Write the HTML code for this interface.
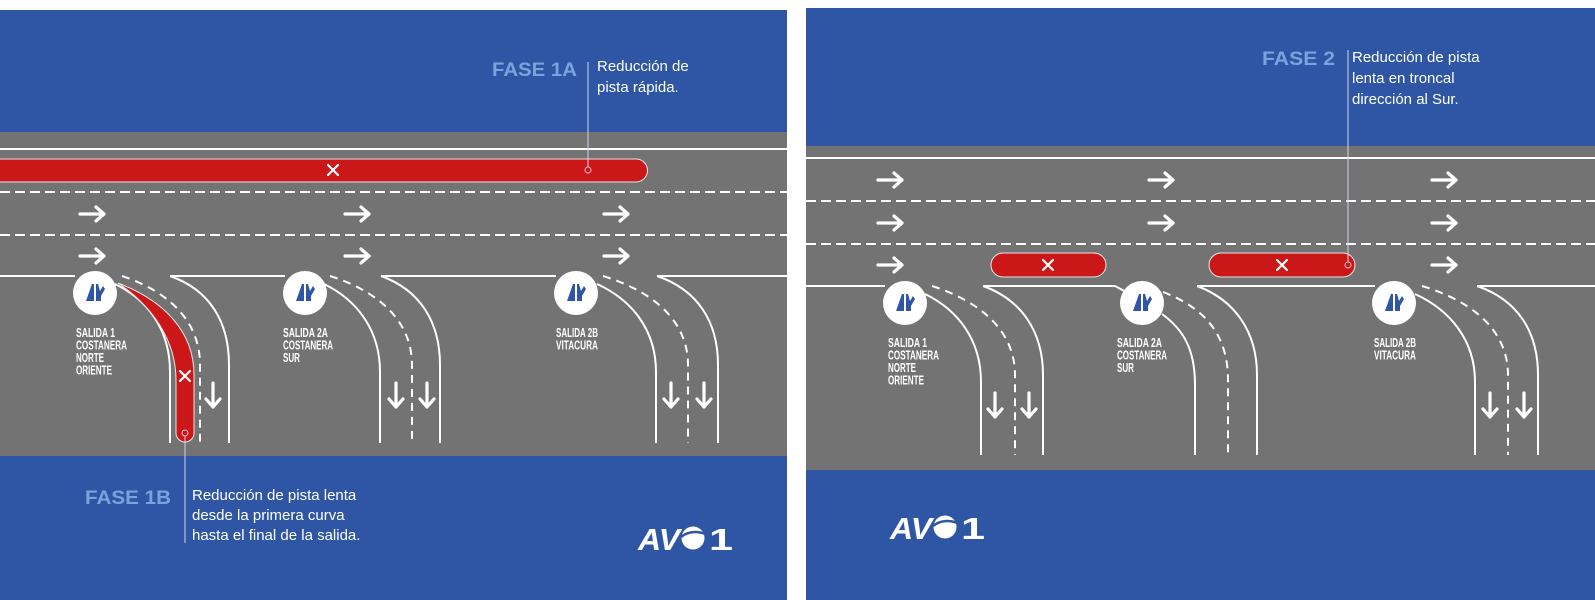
<!DOCTYPE html>
<html><head><meta charset="utf-8"><style>
html,body{margin:0;padding:0;background:#fff;}
svg{display:block;}
</style></head><body>
<svg width="1595" height="600" viewBox="0 0 1595 600" xmlns="http://www.w3.org/2000/svg" font-family="'Liberation Sans', sans-serif">
<defs>
  <g id="icon">
    <circle r="22" fill="#fff"/>
    <polygon points="-9,8 -3,-9 -1,-9 -1,8" fill="#2f56a6"/>
    <polygon points="1,8 1,-9 3,-9 5,-2 8,-7 10,-4 6,3 6,8" fill="#2f56a6"/>
  </g>
  <g id="ra" fill="none" stroke="#fff" stroke-width="3.2" stroke-linecap="round" stroke-linejoin="round">
    <path d="M0,0 H24 M16,-7 L24,0 L16,7"/>
  </g>
  <g id="da" fill="none" stroke="#fff" stroke-width="3.2" stroke-linecap="round" stroke-linejoin="round">
    <path d="M0,0 V24 M-7,16 L0,24 L7,16"/>
  </g>
  <g id="xx" stroke="#fff" stroke-width="2.2" stroke-linecap="round">
    <path d="M-5,-5 L5,5 M5,-5 L-5,5"/>
  </g>
</defs>

<!-- LEFT PANEL -->
<rect x="0" y="10" width="787" height="590" fill="#2f56a4"/>
<rect x="0" y="132" width="787" height="324" fill="#737373"/>
<g stroke="#fff" stroke-width="2" fill="none">
  <line x1="0" y1="149" x2="787" y2="149"/>
  <line x1="0" y1="192" x2="787" y2="192" stroke-dasharray="10 5"/>
  <line x1="0" y1="235" x2="787" y2="235" stroke-dasharray="10 5"/>
  <line x1="0" y1="276" x2="75" y2="276"/>
  <line x1="170" y1="276" x2="285" y2="276"/>
  <line x1="381" y1="276" x2="556" y2="276"/>
  <line x1="657" y1="276" x2="787" y2="276"/>
</g>
<path d="M-5,159 H636 A11.5,11.5 0 0 1 636,182 H-5 Z" fill="#cc1719" stroke="#e6e6e6" stroke-width="1"/>
<use href="#xx" x="333" y="170"/>
<circle cx="588" cy="170" r="3" fill="none" stroke="#f0c0c0" stroke-width="1"/>
<line x1="588" y1="62" x2="588" y2="167" stroke="#cfd6e6" stroke-width="1"/>
<use href="#ra" x="80" y="214"/><use href="#ra" x="80" y="256"/>
<use href="#ra" x="345" y="214"/><use href="#ra" x="345" y="256"/>
<use href="#ra" x="604" y="214"/><use href="#ra" x="604" y="256"/>

<g stroke="#fff" stroke-width="2" fill="none">
  <path d="M115,284 C148,300 170,330 170,372 L170,443"/>
  <path d="M122,276 C170,292 200,322 200,365 L200,443" stroke-dasharray="8 6"/>
  <path d="M170,276 C210,290 229,322 229,365 L229,443"/>
</g>
<path d="M118,283 C162,300 194,330 194,375 L194,433 A9,9 0 0 1 176,433 L176,380 C176,340 152,306 118,283 Z" fill="#cc1719" stroke="#e6e6e6" stroke-width="1"/>
<use href="#xx" x="185" y="376"/>
<circle cx="185" cy="433" r="3" fill="none" stroke="#f0c0c0" stroke-width="1"/>
<line x1="185" y1="436" x2="185" y2="543" stroke="#cfd6e6" stroke-width="1"/>
<use href="#da" x="213" y="383"/>
<use href="#icon" x="95" y="293"/>

<g stroke="#fff" stroke-width="2" fill="none">
  <path d="M324,284 C357,300 380,330 380,372 L380,443"/>
  <path d="M330,276 C380,292 412,322 412,365 L412,443" stroke-dasharray="8 6"/>
  <path d="M381,276 C420,290 440,322 440,365 L440,443"/>
</g>
<use href="#da" x="396" y="383"/><use href="#da" x="427" y="383"/>
<use href="#icon" x="305" y="293"/>

<g stroke="#fff" stroke-width="2" fill="none">
  <path d="M597,284 C632,300 656,330 656,372 L656,443"/>
  <path d="M603,276 C655,292 688,322 688,365 L688,443" stroke-dasharray="8 6"/>
  <path d="M657,276 C698,290 718,322 718,365 L718,443"/>
</g>
<use href="#da" x="671" y="383"/><use href="#da" x="704" y="383"/>
<use href="#icon" x="576" y="293"/>

<g fill="#fff" font-weight="bold" font-size="12.5">
  <text x="76" y="337" textLength="39" lengthAdjust="spacingAndGlyphs">SALIDA 1</text>
  <text x="76" y="349.5" textLength="51" lengthAdjust="spacingAndGlyphs">COSTANERA</text>
  <text x="76" y="362" textLength="28" lengthAdjust="spacingAndGlyphs">NORTE</text>
  <text x="76" y="374.5" textLength="36" lengthAdjust="spacingAndGlyphs">ORIENTE</text>
  <text x="283" y="337" textLength="45" lengthAdjust="spacingAndGlyphs">SALIDA 2A</text>
  <text x="283" y="349.5" textLength="50" lengthAdjust="spacingAndGlyphs">COSTANERA</text>
  <text x="283" y="362" textLength="17" lengthAdjust="spacingAndGlyphs">SUR</text>
  <text x="556" y="337" textLength="42" lengthAdjust="spacingAndGlyphs">SALIDA 2B</text>
  <text x="556" y="349.5" textLength="42" lengthAdjust="spacingAndGlyphs">VITACURA</text>
</g>
<text x="492" y="76" fill="#7aa3dc" font-weight="bold" font-size="19" textLength="85" lengthAdjust="spacingAndGlyphs">FASE 1A</text>
<text x="597" y="71" fill="#fff" font-size="15">Reducción de</text>
<text x="597" y="92" fill="#fff" font-size="15">pista rápida.</text>
<text x="85" y="504" fill="#7aa3dc" font-weight="bold" font-size="19" textLength="86" lengthAdjust="spacingAndGlyphs">FASE 1B</text>
<text x="192" y="500" fill="#fff" font-size="15">Reducción de pista lenta</text>
<text x="192" y="520" fill="#fff" font-size="15">desde la primera curva</text>
<text x="192" y="540" fill="#fff" font-size="15">hasta el final de la salida.</text>
<g>
  <text x="638" y="550" fill="#fff" font-weight="bold" font-style="italic" font-size="31" textLength="42" lengthAdjust="spacingAndGlyphs">AV</text>
  <circle cx="693" cy="538" r="11.5" fill="#fff"/>
  <path d="M681,537 C688,531 698,531 705,534" stroke="#2f56a4" stroke-width="2.5" fill="none"/>
  <text x="709" y="550" fill="#fff" font-weight="bold" font-size="31" textLength="24" lengthAdjust="spacingAndGlyphs">1</text>
</g>

<!-- RIGHT PANEL -->
<rect x="806" y="8" width="789" height="592" fill="#2f56a4"/>
<rect x="806" y="146" width="789" height="324" fill="#737373"/>
<g stroke="#fff" stroke-width="2" fill="none">
  <line x1="806" y1="158" x2="1595" y2="158"/>
  <line x1="806" y1="201" x2="1595" y2="201" stroke-dasharray="10 5"/>
  <line x1="806" y1="244" x2="1595" y2="244" stroke-dasharray="10 5"/>
  <line x1="806" y1="286" x2="885" y2="286"/>
  <line x1="983" y1="286" x2="1115" y2="286"/>
  <path d="M1115,286 L1128,293"/>
  <line x1="1197" y1="286" x2="1375" y2="286"/>
  <line x1="1477" y1="286" x2="1595" y2="286"/>
</g>
<use href="#ra" x="878" y="180"/><use href="#ra" x="878" y="223"/><use href="#ra" x="878" y="265"/>
<use href="#ra" x="1149" y="180"/><use href="#ra" x="1149" y="223"/>
<use href="#ra" x="1432" y="180"/><use href="#ra" x="1432" y="223"/><use href="#ra" x="1432" y="265"/>

<rect x="991" y="253" width="115" height="24" rx="12" fill="#cc1719" stroke="#e6e6e6" stroke-width="1"/>
<use href="#xx" x="1048" y="265"/>
<rect x="1209" y="253" width="146" height="24" rx="12" fill="#cc1719" stroke="#e6e6e6" stroke-width="1"/>
<use href="#xx" x="1282" y="265"/>
<circle cx="1348" cy="265" r="3" fill="none" stroke="#f0c0c0" stroke-width="1"/>
<line x1="1348" y1="50" x2="1348" y2="262" stroke="#cfd6e6" stroke-width="1"/>

<g stroke="#fff" stroke-width="2" fill="none">
  <path d="M925,294 C958,310 981,340 981,382 L981,455"/>
  <path d="M932,286 C982,302 1015,332 1015,375 L1015,455" stroke-dasharray="8 6"/>
  <path d="M983,286 C1022,300 1043,332 1043,375 L1043,455"/>
</g>
<use href="#da" x="995" y="393"/><use href="#da" x="1029" y="393"/>
<use href="#icon" x="905" y="303"/>

<g stroke="#fff" stroke-width="2" fill="none">
  <path d="M1162,314 C1184,330 1195,350 1195,385 L1195,455"/>
  <path d="M1163,292 C1205,308 1228,335 1228,380 L1228,455" stroke-dasharray="8 6"/>
  <path d="M1197,286 C1235,300 1257,332 1257,375 L1257,455"/>
</g>
<use href="#icon" x="1142" y="303"/>

<g stroke="#fff" stroke-width="2" fill="none">
  <path d="M1415,294 C1450,310 1475,340 1475,382 L1475,455"/>
  <path d="M1422,286 C1475,302 1508,332 1508,375 L1508,455" stroke-dasharray="8 6"/>
  <path d="M1477,286 C1518,300 1538,332 1538,375 L1538,455"/>
</g>
<use href="#da" x="1490" y="393"/><use href="#da" x="1524" y="393"/>
<use href="#icon" x="1394" y="303"/>

<g fill="#fff" font-weight="bold" font-size="12.5">
  <text x="888" y="347" textLength="39" lengthAdjust="spacingAndGlyphs">SALIDA 1</text>
  <text x="888" y="359.5" textLength="51" lengthAdjust="spacingAndGlyphs">COSTANERA</text>
  <text x="888" y="372" textLength="28" lengthAdjust="spacingAndGlyphs">NORTE</text>
  <text x="888" y="384.5" textLength="36" lengthAdjust="spacingAndGlyphs">ORIENTE</text>
  <text x="1117" y="347" textLength="45" lengthAdjust="spacingAndGlyphs">SALIDA 2A</text>
  <text x="1117" y="359.5" textLength="50" lengthAdjust="spacingAndGlyphs">COSTANERA</text>
  <text x="1117" y="372" textLength="17" lengthAdjust="spacingAndGlyphs">SUR</text>
  <text x="1374" y="347" textLength="42" lengthAdjust="spacingAndGlyphs">SALIDA 2B</text>
  <text x="1374" y="359.5" textLength="42" lengthAdjust="spacingAndGlyphs">VITACURA</text>
</g>
<text x="1262" y="65" fill="#7aa3dc" font-weight="bold" font-size="19" textLength="73" lengthAdjust="spacingAndGlyphs">FASE 2</text>
<text x="1352" y="62" fill="#fff" font-size="15">Reducción de pista</text>
<text x="1352" y="83" fill="#fff" font-size="15">lenta en troncal</text>
<text x="1352" y="104" fill="#fff" font-size="15">dirección al Sur.</text>
<g>
  <text x="890" y="539" fill="#fff" font-weight="bold" font-style="italic" font-size="31" textLength="42" lengthAdjust="spacingAndGlyphs">AV</text>
  <circle cx="945" cy="527" r="11.5" fill="#fff"/>
  <path d="M933,526 C940,520 950,520 957,523" stroke="#2f56a4" stroke-width="2.5" fill="none"/>
  <text x="961" y="539" fill="#fff" font-weight="bold" font-size="31" textLength="24" lengthAdjust="spacingAndGlyphs">1</text>
</g>
</svg>
</body></html>
